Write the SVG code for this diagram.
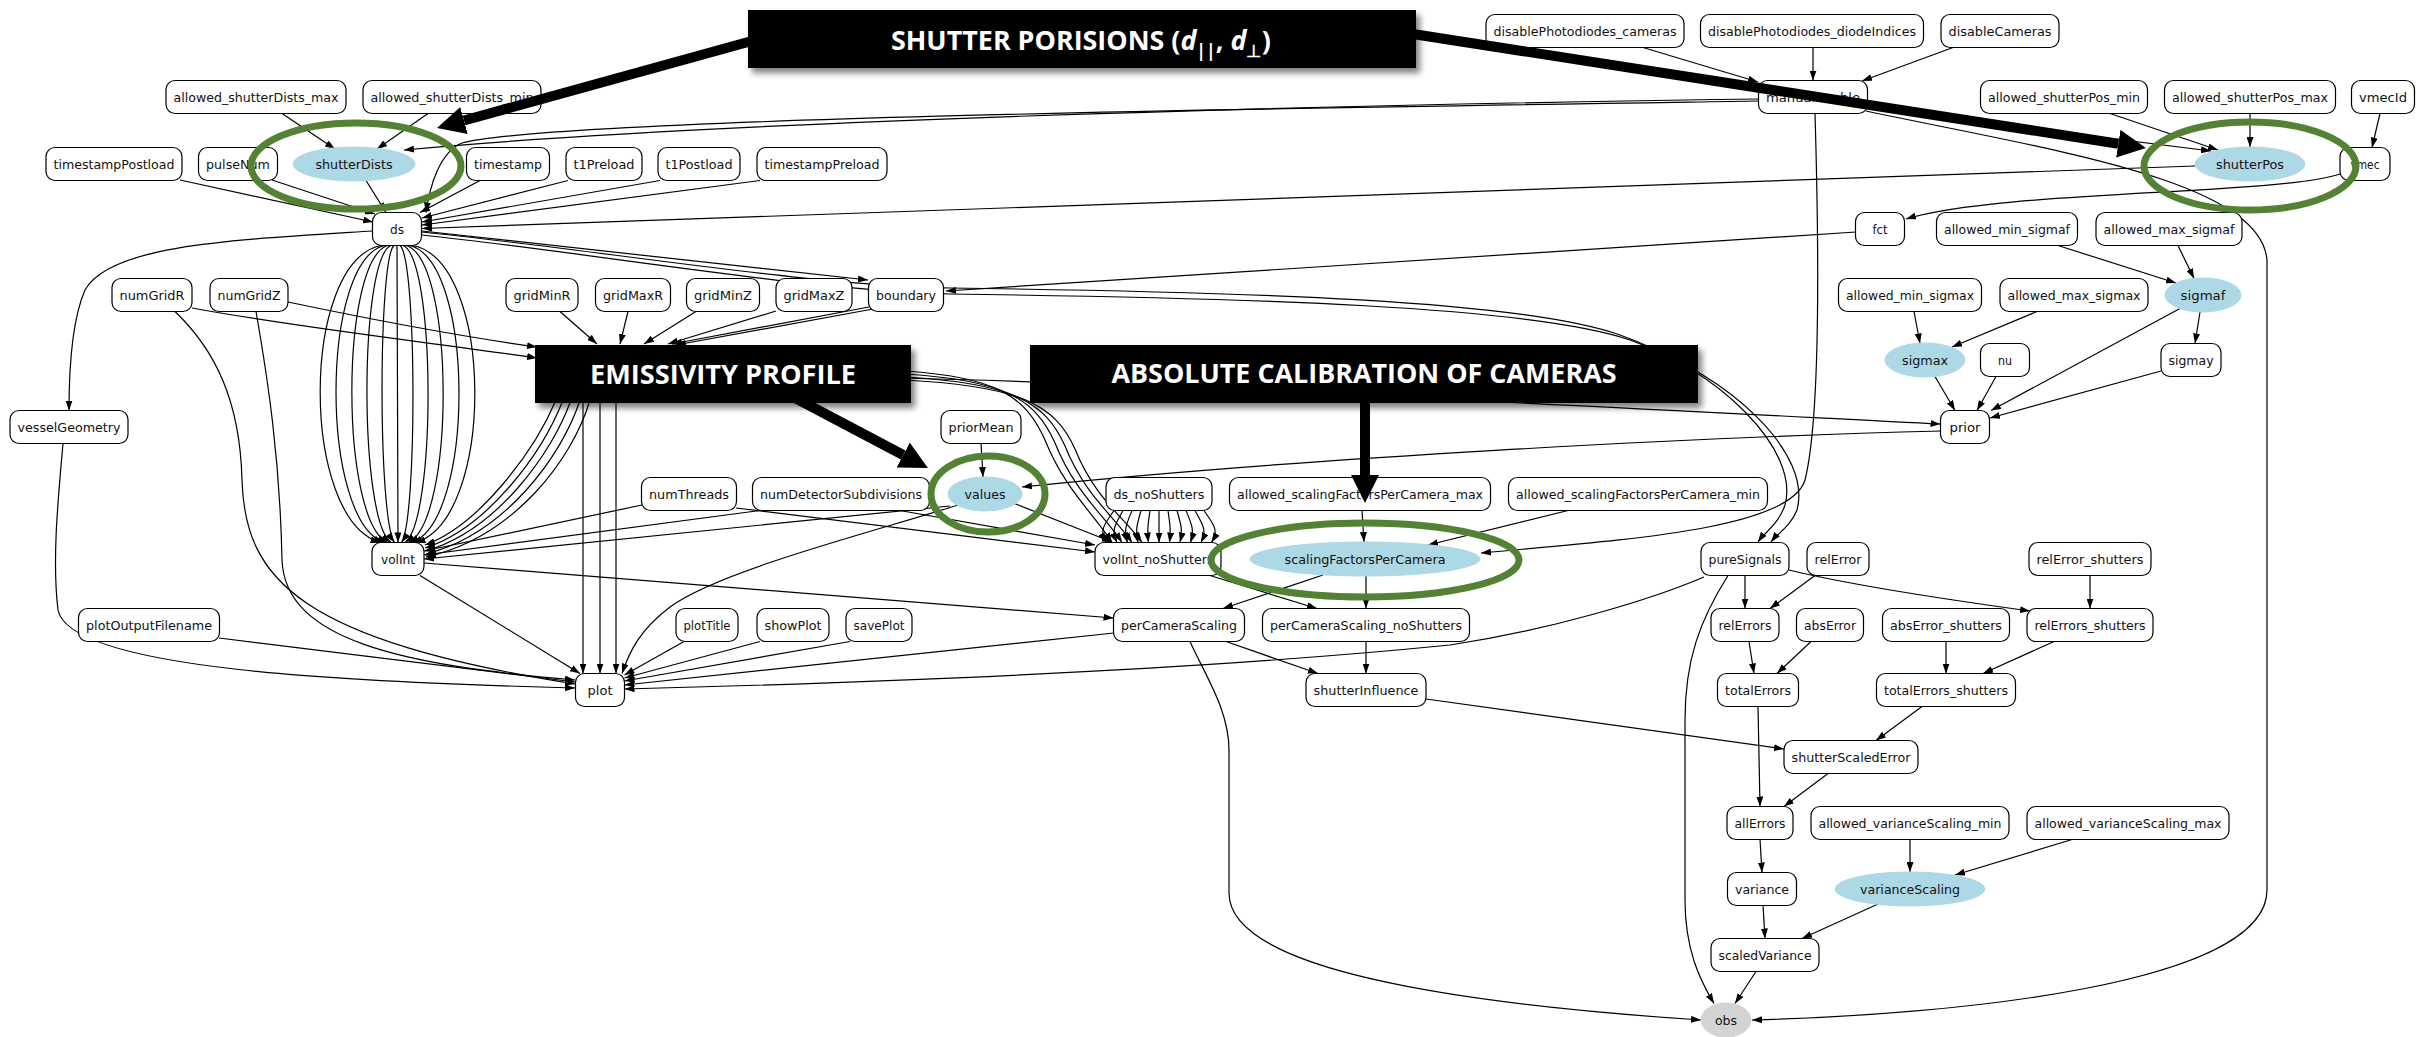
<svg xmlns="http://www.w3.org/2000/svg" width="2435" height="1037" viewBox="0 0 2435 1037">
<defs>
<style>
.n rect{fill:#fff;stroke:#000;stroke-width:1.2}
.v ellipse{fill:#add8e6;stroke:#add8e6}
.o ellipse{fill:#d3d3d3;stroke:#d3d3d3}
.n text,.v text,.o text{font-family:"DejaVu Sans Condensed","DejaVu Sans",sans-serif;font-size:13px;text-anchor:middle;fill:#111}
#edges path{fill:none;stroke:#000;stroke-width:1.2;marker-end:url(#ah)}
.ring{fill:none;stroke:#548235;stroke-width:7}
.big{fill:none;stroke:#000;stroke-width:10;marker-end:url(#bh)}
.cap rect{fill:#000;filter:url(#sh)}
.cap text{font-family:"Open Sans","Noto Sans",sans-serif;font-weight:700;font-size:26px;fill:#fff;text-anchor:middle}
</style>
<marker id="ah" viewBox="0 0 10 7" refX="10" refY="3.5" markerWidth="10" markerHeight="7" markerUnits="userSpaceOnUse" orient="auto"><path d="M0,0L10,3.5L0,7z" fill="#000"/></marker>
<marker id="bh" viewBox="0 0 28 28" refX="0" refY="14" markerWidth="28" markerHeight="28" markerUnits="userSpaceOnUse" orient="auto"><path d="M0,0L28,14L0,28z" fill="#000"/></marker>
<filter id="sh" x="-5%" y="-30%" width="112%" height="170%"><feGaussianBlur in="SourceAlpha" stdDeviation="3"/><feOffset dx="4" dy="5"/><feComponentTransfer><feFuncA type="linear" slope="0.5"/></feComponentTransfer><feMerge><feMergeNode/><feMergeNode in="SourceGraphic"/></feMerge></filter>
</defs>
<rect width="2435" height="1037" fill="#fff"/>

<g id="edges">
<path d="M282,113.5L335,149"/>
<path d="M428,113.5L377,149"/>
<path d="M1758,99C1300,105 700,122 404,150"/>
<path d="M1758,101C1300,108 560,118 462,143C440,152 430,185 426,212.5"/>
<path d="M366,180.5L386,212.5"/>
<path d="M180,180L373,222"/>
<path d="M272,180L375,214"/>
<path d="M480,180.5L420,212.5"/>
<path d="M568,180.5L422,218"/>
<path d="M660,180.5L422,222"/>
<path d="M760,180.5L422,225"/>
<path d="M2195,166L422,228.5"/>
<path d="M1643,47.5L1758,82"/>
<path d="M1813,47.5L1813,80.5"/>
<path d="M1953,47.5L1862,81"/>
<path d="M1866,108L2211,151"/>
<path d="M2110,113.5L2218,150"/>
<path d="M2250,113.5L2250,147"/>
<path d="M2380,113.5L2372,147.5"/>
<path d="M2340,174C2280,195 2000,190 1906,219"/>
<path d="M1856,232L946,291"/>
<path d="M1866,111C2050,150 2260,180 2267,260L2267,890C2267,985 1950,1015 1752,1020"/>
<path d="M1815,113.5C1819,250 1820,420 1805,480C1790,530 1620,540 1481,553"/>
<path d="M2058,245.5L2176,283"/>
<path d="M2178,245.5L2194,278.5"/>
<path d="M2200,312L2195,343.5"/>
<path d="M2180,308.5L1991,410.5"/>
<path d="M1914,311.5L1920,343.5"/>
<path d="M2037,311.5L1952,347"/>
<path d="M1935,376.5L1955,410.5"/>
<path d="M1996,376.5L1977,410.5"/>
<path d="M2161,371L1990,418"/>
<path d="M422,231L868,280"/>
<path d="M422,232C600,250 800,285 950,288C1250,292 1520,300 1620,335C1720,370 1800,450 1785,505C1778,525 1765,532 1758,542"/>
<path d="M422,235C600,254 800,290 950,294C1250,298 1530,306 1630,340C1735,378 1812,455 1797,510C1790,527 1778,533 1771,542"/>
<path d="M381,245.5C300,262 300,520 380.5,542.5"/>
<path d="M384.2,245.5C320,262 320,520 384,542.5"/>
<path d="M387.4,245.5C340,262 340,520 387.5,542.5"/>
<path d="M390.6,245.5C359,262 359,520 391,542.5"/>
<path d="M393.8,245.5C378,262 378,520 394.5,542.5"/>
<path d="M397,245.5L398,542.5"/>
<path d="M400.2,245.5C417,262 417,520 401.5,542.5"/>
<path d="M403.4,245.5C436,262 436,520 405,542.5"/>
<path d="M406.6,245.5C455,262 455,520 408.5,542.5"/>
<path d="M409.8,245.5C475,262 475,520 412,542.5"/>
<path d="M413,245.5C495,262 495,520 415.5,542.5"/>
<path d="M372.5,231C230,240 110,245 85,290C72,320 69,370 69,410.5"/>
<path d="M560,311.5L597,344"/>
<path d="M628,311.5L620,344"/>
<path d="M696,311.5L644,344"/>
<path d="M776,311L668,344"/>
<path d="M869,307L672,344"/>
<path d="M873,309L676,345"/>
<path d="M192,308C300,328 450,345 537,358"/>
<path d="M288,302C350,315 450,335 537,347"/>
<path d="M556,400C535,450 480,525 425,545"/>
<path d="M563,400C543,452 488,528 425,548"/>
<path d="M571,400C552,454 496,531 425.5,551"/>
<path d="M580,400C562,456 505,534 426,554"/>
<path d="M590,400C573,458 515,537 426,557"/>
<path d="M583,400L583,673.5"/>
<path d="M600,400L600,673.5"/>
<path d="M616,400L616,673.5"/>
<path d="M905,371C995,377 1025,395 1045,440C1065,490 1095,515 1112,542.5"/>
<path d="M905,374C1003,380 1035,398 1055,443C1075,493 1105,516 1122,542.5"/>
<path d="M905,377C1011,383 1045,401 1065,446C1085,496 1115,517 1132,542.5"/>
<path d="M905,380C1019,386 1055,404 1075,449C1095,499 1125,518 1142,542.5"/>
<path d="M900,378C1200,385 1700,412 1940.5,424"/>
<path d="M175,311.5C215,350 240,400 242,480C245,580 300,640 575,684"/>
<path d="M256,311.5C268,380 280,460 282,560C285,640 400,665 575,680"/>
<path d="M63,443.5C58,500 52,560 58,610C70,670 350,682 575,688"/>
<path d="M219,638L575,682"/>
<path d="M420,575.5L580,673.5"/>
<path d="M684,641.5L624.5,675"/>
<path d="M760,641.5L624.5,678"/>
<path d="M850,641.5L624.5,681"/>
<path d="M958,505C880,530 720,570 670,607C640,630 630,650 622,673.5"/>
<path d="M1114,633L624.5,685"/>
<path d="M1704,577C1650,600 1550,630 1450,645C1200,670 900,682 624.5,689"/>
<path d="M642,505L424,551"/>
<path d="M760,510.5L424,555"/>
<path d="M950,506L424,559"/>
<path d="M736,508L1095,552"/>
<path d="M900,510.5L1095,545"/>
<path d="M1013,503L1112,542"/>
<path d="M981,443.5L983,477"/>
<path d="M1941,431C1700,437 1300,458 1022,487"/>
<path d="M1114,510.5C1104,525 1099,530 1106.5,542.5"/>
<path d="M1123,510.5C1115,525 1111,530 1117,542.5"/>
<path d="M1132,510.5C1126,525 1123.5,530 1127.5,542.5"/>
<path d="M1141,510.5C1137,525 1135,530 1138,542.5"/>
<path d="M1150,510.5C1148,525 1147,530 1148.5,542.5"/>
<path d="M1159,510.5L1159,542.5"/>
<path d="M1168,510.5C1170,525 1171,530 1169.5,542.5"/>
<path d="M1177,510.5C1181,525 1183,530 1180,542.5"/>
<path d="M1186,510.5C1192,525 1194.5,530 1190.5,542.5"/>
<path d="M1195,510.5C1203,525 1207,530 1201,542.5"/>
<path d="M1204,510.5C1214,525 1219,530 1211.5,542.5"/>
<path d="M424,563L1113.5,618"/>
<path d="M1210,575.5L1317,608.5"/>
<path d="M1323,575L1223,608.5"/>
<path d="M1366,576L1366,608.5"/>
<path d="M1362,510.5L1364,542"/>
<path d="M1568,510.5L1428,545"/>
<path d="M1226,641.5L1318,673.5"/>
<path d="M1366,641.5L1366,673.5"/>
<path d="M1190,641.5C1205,675 1229,710 1229,750L1229,893C1229,960 1400,1000 1701,1020"/>
<path d="M1426,699L1784,749"/>
<path d="M1745,575.5L1745,608.5"/>
<path d="M1815,575.5L1770,608.5"/>
<path d="M1789,570C1850,585 1950,600 2030,611"/>
<path d="M2090,575.5L2090,608.5"/>
<path d="M1749,641.5L1754,673.5"/>
<path d="M1811,641.5L1777,673.5"/>
<path d="M1946,641.5L1946,673.5"/>
<path d="M2054,641.5L1983,673.5"/>
<path d="M1922,706.5L1876,740.5"/>
<path d="M1758,706.5L1760,806.5"/>
<path d="M1828,773.5L1784,806.5"/>
<path d="M1760,839.5L1762,872.5"/>
<path d="M1763,905.5L1765,938.5"/>
<path d="M1910,839.5L1910,872"/>
<path d="M2072,839.5L1955,875"/>
<path d="M1878,904L1802,938.5"/>
<path d="M1756,971.5L1735,1003.5"/>
<path d="M1728,575.5C1700,620 1685,660 1685,720L1685,900C1685,950 1700,980 1714,1003.5"/>
</g>

<g id="nodes">
<g id="n-disablePhotodiodes_cameras" class="n"><rect x="1486" y="14.5" width="198" height="33" rx="9"/><text x="1585" y="35.5" textLength="183" lengthAdjust="spacingAndGlyphs">disablePhotodiodes_cameras</text></g>
<g id="n-disablePhotodiodes_diodeIndices" class="n"><rect x="1700.5" y="14.5" width="223" height="33" rx="9"/><text x="1812" y="35.5" textLength="208" lengthAdjust="spacingAndGlyphs">disablePhotodiodes_diodeIndices</text></g>
<g id="n-disableCameras" class="n"><rect x="1941" y="14.5" width="118" height="33" rx="9"/><text x="2000" y="35.5" textLength="103" lengthAdjust="spacingAndGlyphs">disableCameras</text></g>
<g id="n-allowed_shutterDists_max" class="n"><rect x="166" y="80.5" width="180" height="33" rx="9"/><text x="256" y="101.5" textLength="165" lengthAdjust="spacingAndGlyphs">allowed_shutterDists_max</text></g>
<g id="n-allowed_shutterDists_min" class="n"><rect x="363" y="80.5" width="178" height="33" rx="9"/><text x="452" y="101.5" textLength="163" lengthAdjust="spacingAndGlyphs">allowed_shutterDists_min</text></g>
<g id="n-manualEnable" class="n"><rect x="1758.5" y="80.5" width="109" height="33" rx="9"/><text x="1813" y="101.5" textLength="94" lengthAdjust="spacingAndGlyphs">manualEnable</text></g>
<g id="n-allowed_shutterPos_min" class="n"><rect x="1980.5" y="80.5" width="167" height="33" rx="9"/><text x="2064" y="101.5" textLength="152" lengthAdjust="spacingAndGlyphs">allowed_shutterPos_min</text></g>
<g id="n-allowed_shutterPos_max" class="n"><rect x="2164.5" y="80.5" width="171" height="33" rx="9"/><text x="2250" y="101.5" textLength="156" lengthAdjust="spacingAndGlyphs">allowed_shutterPos_max</text></g>
<g id="n-vmecId" class="n"><rect x="2351.5" y="80.5" width="63" height="33" rx="9"/><text x="2383" y="101.5" textLength="48" lengthAdjust="spacingAndGlyphs">vmecId</text></g>
<g id="n-timestampPostload" class="n"><rect x="46" y="147.5" width="136" height="33" rx="9"/><text x="114" y="168.5" textLength="121" lengthAdjust="spacingAndGlyphs">timestampPostload</text></g>
<g id="n-pulseNum" class="n"><rect x="198.5" y="147.5" width="79" height="33" rx="9"/><text x="238" y="168.5" textLength="64" lengthAdjust="spacingAndGlyphs">pulseNum</text></g>
<g id="n-shutterDists" class="v"><ellipse cx="354" cy="164" rx="61" ry="17"/><text x="354" y="168.5" textLength="77" lengthAdjust="spacingAndGlyphs">shutterDists</text></g>
<g id="n-timestamp" class="n"><rect x="466.5" y="147.5" width="83" height="33" rx="9"/><text x="508" y="168.5" textLength="68" lengthAdjust="spacingAndGlyphs">timestamp</text></g>
<g id="n-t1Preload" class="n"><rect x="566" y="147.5" width="76" height="33" rx="9"/><text x="604" y="168.5" textLength="61" lengthAdjust="spacingAndGlyphs">t1Preload</text></g>
<g id="n-t1Postload" class="n"><rect x="658" y="147.5" width="82" height="33" rx="9"/><text x="699" y="168.5" textLength="67" lengthAdjust="spacingAndGlyphs">t1Postload</text></g>
<g id="n-timestampPreload" class="n"><rect x="757" y="147.5" width="130" height="33" rx="9"/><text x="822" y="168.5" textLength="115" lengthAdjust="spacingAndGlyphs">timestampPreload</text></g>
<g id="n-shutterPos" class="v"><ellipse cx="2250" cy="164" rx="55" ry="17"/><text x="2250" y="168.5" textLength="68" lengthAdjust="spacingAndGlyphs">shutterPos</text></g>
<g id="n-vmec" class="n"><rect x="2340" y="147.5" width="50" height="33" rx="9"/><text x="2365" y="168.5" textLength="29" lengthAdjust="spacingAndGlyphs">vmec</text></g>
<g id="n-ds" class="n"><rect x="372.5" y="212.5" width="49" height="33" rx="9"/><text x="397" y="233.5" textLength="14" lengthAdjust="spacingAndGlyphs">ds</text></g>
<g id="n-fct" class="n"><rect x="1855.5" y="212.5" width="49" height="33" rx="9"/><text x="1880" y="233.5" textLength="15" lengthAdjust="spacingAndGlyphs">fct</text></g>
<g id="n-allowed_min_sigmaf" class="n"><rect x="1936.5" y="212.5" width="141" height="33" rx="9"/><text x="2007" y="233.5" textLength="126" lengthAdjust="spacingAndGlyphs">allowed_min_sigmaf</text></g>
<g id="n-allowed_max_sigmaf" class="n"><rect x="2096" y="212.5" width="146" height="33" rx="9"/><text x="2169" y="233.5" textLength="131" lengthAdjust="spacingAndGlyphs">allowed_max_sigmaf</text></g>
<g id="n-numGridR" class="n"><rect x="112" y="278.5" width="80" height="33" rx="9"/><text x="152" y="299.5" textLength="65" lengthAdjust="spacingAndGlyphs">numGridR</text></g>
<g id="n-numGridZ" class="n"><rect x="210" y="278.5" width="78" height="33" rx="9"/><text x="249" y="299.5" textLength="63" lengthAdjust="spacingAndGlyphs">numGridZ</text></g>
<g id="n-gridMinR" class="n"><rect x="506" y="278.5" width="72" height="33" rx="9"/><text x="542" y="299.5" textLength="57" lengthAdjust="spacingAndGlyphs">gridMinR</text></g>
<g id="n-gridMaxR" class="n"><rect x="595.5" y="278.5" width="75" height="33" rx="9"/><text x="633" y="299.5" textLength="60" lengthAdjust="spacingAndGlyphs">gridMaxR</text></g>
<g id="n-gridMinZ" class="n"><rect x="686.5" y="278.5" width="73" height="33" rx="9"/><text x="723" y="299.5" textLength="58" lengthAdjust="spacingAndGlyphs">gridMinZ</text></g>
<g id="n-gridMaxZ" class="n"><rect x="776" y="278.5" width="76" height="33" rx="9"/><text x="814" y="299.5" textLength="61" lengthAdjust="spacingAndGlyphs">gridMaxZ</text></g>
<g id="n-boundary" class="n"><rect x="868.5" y="278.5" width="75" height="33" rx="9"/><text x="906" y="299.5" textLength="60" lengthAdjust="spacingAndGlyphs">boundary</text></g>
<g id="n-allowed_min_sigmax" class="n"><rect x="1838.5" y="278.5" width="143" height="33" rx="9"/><text x="1910" y="299.5" textLength="128" lengthAdjust="spacingAndGlyphs">allowed_min_sigmax</text></g>
<g id="n-allowed_max_sigmax" class="n"><rect x="2000" y="278.5" width="148" height="33" rx="9"/><text x="2074" y="299.5" textLength="133" lengthAdjust="spacingAndGlyphs">allowed_max_sigmax</text></g>
<g id="n-sigmaf" class="v"><ellipse cx="2203" cy="295" rx="38" ry="17"/><text x="2203" y="299.5" textLength="45" lengthAdjust="spacingAndGlyphs">sigmaf</text></g>
<g id="n-sigmax" class="v"><ellipse cx="1925" cy="360" rx="40" ry="17"/><text x="1925" y="364.5" textLength="46" lengthAdjust="spacingAndGlyphs">sigmax</text></g>
<g id="n-nu" class="n"><rect x="1980.5" y="343.5" width="49" height="33" rx="9"/><text x="2005" y="364.5" textLength="14" lengthAdjust="spacingAndGlyphs">nu</text></g>
<g id="n-sigmay" class="n"><rect x="2161" y="343.5" width="60" height="33" rx="9"/><text x="2191" y="364.5" textLength="45" lengthAdjust="spacingAndGlyphs">sigmay</text></g>
<g id="n-vesselGeometry" class="n"><rect x="10" y="410.5" width="118" height="33" rx="9"/><text x="69" y="431.5" textLength="103" lengthAdjust="spacingAndGlyphs">vesselGeometry</text></g>
<g id="n-priorMean" class="n"><rect x="941" y="410.5" width="80" height="33" rx="9"/><text x="981" y="431.5" textLength="65" lengthAdjust="spacingAndGlyphs">priorMean</text></g>
<g id="n-prior" class="n"><rect x="1940.5" y="410.5" width="49" height="33" rx="9"/><text x="1965" y="431.5" textLength="31" lengthAdjust="spacingAndGlyphs">prior</text></g>
<g id="n-numThreads" class="n"><rect x="641.5" y="477.5" width="95" height="33" rx="9"/><text x="689" y="498.5" textLength="80" lengthAdjust="spacingAndGlyphs">numThreads</text></g>
<g id="n-numDetectorSubdivisions" class="n"><rect x="752.5" y="477.5" width="177" height="33" rx="9"/><text x="841" y="498.5" textLength="162" lengthAdjust="spacingAndGlyphs">numDetectorSubdivisions</text></g>
<g id="n-values" class="v"><ellipse cx="985" cy="494" rx="37" ry="17"/><text x="985" y="498.5" textLength="41" lengthAdjust="spacingAndGlyphs">values</text></g>
<g id="n-ds_noShutters" class="n"><rect x="1106" y="477.5" width="106" height="33" rx="9"/><text x="1159" y="498.5" textLength="91" lengthAdjust="spacingAndGlyphs">ds_noShutters</text></g>
<g id="n-allowed_scalingFactorsPerCamera_max" class="n"><rect x="1229.5" y="477.5" width="261" height="33" rx="9"/><text x="1360" y="498.5" textLength="246" lengthAdjust="spacingAndGlyphs">allowed_scalingFactorsPerCamera_max</text></g>
<g id="n-allowed_scalingFactorsPerCamera_min" class="n"><rect x="1508.5" y="477.5" width="259" height="33" rx="9"/><text x="1638" y="498.5" textLength="244" lengthAdjust="spacingAndGlyphs">allowed_scalingFactorsPerCamera_min</text></g>
<g id="n-volInt" class="n"><rect x="372" y="542.5" width="52" height="33" rx="9"/><text x="398" y="563.5" textLength="34" lengthAdjust="spacingAndGlyphs">volInt</text></g>
<g id="n-volInt_noShutters" class="n"><rect x="1095" y="542.5" width="126" height="33" rx="9"/><text x="1158" y="563.5" textLength="111" lengthAdjust="spacingAndGlyphs">volInt_noShutters</text></g>
<g id="n-scalingFactorsPerCamera" class="v"><ellipse cx="1365" cy="559" rx="115" ry="17"/><text x="1365" y="563.5" textLength="161" lengthAdjust="spacingAndGlyphs">scalingFactorsPerCamera</text></g>
<g id="n-pureSignals" class="n"><rect x="1701" y="542.5" width="88" height="33" rx="9"/><text x="1745" y="563.5" textLength="73" lengthAdjust="spacingAndGlyphs">pureSignals</text></g>
<g id="n-relError" class="n"><rect x="1807" y="542.5" width="62" height="33" rx="9"/><text x="1838" y="563.5" textLength="47" lengthAdjust="spacingAndGlyphs">relError</text></g>
<g id="n-relError_shutters" class="n"><rect x="2029" y="542.5" width="122" height="33" rx="9"/><text x="2090" y="563.5" textLength="107" lengthAdjust="spacingAndGlyphs">relError_shutters</text></g>
<g id="n-plotOutputFilename" class="n"><rect x="78.5" y="608.5" width="141" height="33" rx="9"/><text x="149" y="629.5" textLength="126" lengthAdjust="spacingAndGlyphs">plotOutputFilename</text></g>
<g id="n-plotTitle" class="n"><rect x="676" y="608.5" width="62" height="33" rx="9"/><text x="707" y="629.5" textLength="47" lengthAdjust="spacingAndGlyphs">plotTitle</text></g>
<g id="n-showPlot" class="n"><rect x="757" y="608.5" width="72" height="33" rx="9"/><text x="793" y="629.5" textLength="57" lengthAdjust="spacingAndGlyphs">showPlot</text></g>
<g id="n-savePlot" class="n"><rect x="846" y="608.5" width="66" height="33" rx="9"/><text x="879" y="629.5" textLength="51" lengthAdjust="spacingAndGlyphs">savePlot</text></g>
<g id="n-perCameraScaling" class="n"><rect x="1113.5" y="608.5" width="131" height="33" rx="9"/><text x="1179" y="629.5" textLength="116" lengthAdjust="spacingAndGlyphs">perCameraScaling</text></g>
<g id="n-perCameraScaling_noShutters" class="n"><rect x="1262.5" y="608.5" width="207" height="33" rx="9"/><text x="1366" y="629.5" textLength="192" lengthAdjust="spacingAndGlyphs">perCameraScaling_noShutters</text></g>
<g id="n-relErrors" class="n"><rect x="1711" y="608.5" width="68" height="33" rx="9"/><text x="1745" y="629.5" textLength="53" lengthAdjust="spacingAndGlyphs">relErrors</text></g>
<g id="n-absError" class="n"><rect x="1796.5" y="608.5" width="67" height="33" rx="9"/><text x="1830" y="629.5" textLength="52" lengthAdjust="spacingAndGlyphs">absError</text></g>
<g id="n-absError_shutters" class="n"><rect x="1882.5" y="608.5" width="127" height="33" rx="9"/><text x="1946" y="629.5" textLength="112" lengthAdjust="spacingAndGlyphs">absError_shutters</text></g>
<g id="n-relErrors_shutters" class="n"><rect x="2027" y="608.5" width="126" height="33" rx="9"/><text x="2090" y="629.5" textLength="111" lengthAdjust="spacingAndGlyphs">relErrors_shutters</text></g>
<g id="n-plot" class="n"><rect x="575.5" y="673.5" width="49" height="33" rx="9"/><text x="600" y="694.5" textLength="25" lengthAdjust="spacingAndGlyphs">plot</text></g>
<g id="n-shutterInfluence" class="n"><rect x="1306" y="673.5" width="120" height="33" rx="9"/><text x="1366" y="694.5" textLength="105" lengthAdjust="spacingAndGlyphs">shutterInfluence</text></g>
<g id="n-totalErrors" class="n"><rect x="1717.5" y="673.5" width="81" height="33" rx="9"/><text x="1758" y="694.5" textLength="66" lengthAdjust="spacingAndGlyphs">totalErrors</text></g>
<g id="n-totalErrors_shutters" class="n"><rect x="1876.5" y="673.5" width="139" height="33" rx="9"/><text x="1946" y="694.5" textLength="124" lengthAdjust="spacingAndGlyphs">totalErrors_shutters</text></g>
<g id="n-shutterScaledError" class="n"><rect x="1784" y="740.5" width="134" height="33" rx="9"/><text x="1851" y="761.5" textLength="119" lengthAdjust="spacingAndGlyphs">shutterScaledError</text></g>
<g id="n-allErrors" class="n"><rect x="1727" y="806.5" width="66" height="33" rx="9"/><text x="1760" y="827.5" textLength="51" lengthAdjust="spacingAndGlyphs">allErrors</text></g>
<g id="n-allowed_varianceScaling_min" class="n"><rect x="1811" y="806.5" width="198" height="33" rx="9"/><text x="1910" y="827.5" textLength="183" lengthAdjust="spacingAndGlyphs">allowed_varianceScaling_min</text></g>
<g id="n-allowed_varianceScaling_max" class="n"><rect x="2027" y="806.5" width="202" height="33" rx="9"/><text x="2128" y="827.5" textLength="187" lengthAdjust="spacingAndGlyphs">allowed_varianceScaling_max</text></g>
<g id="n-variance" class="n"><rect x="1727.5" y="872.5" width="69" height="33" rx="9"/><text x="1762" y="893.5" textLength="54" lengthAdjust="spacingAndGlyphs">variance</text></g>
<g id="n-varianceScaling" class="v"><ellipse cx="1910" cy="889" rx="75" ry="17"/><text x="1910" y="893.5" textLength="100" lengthAdjust="spacingAndGlyphs">varianceScaling</text></g>
<g id="n-scaledVariance" class="n"><rect x="1711" y="938.5" width="108" height="33" rx="9"/><text x="1765" y="959.5" textLength="93" lengthAdjust="spacingAndGlyphs">scaledVariance</text></g>
<g id="n-obs" class="o"><ellipse cx="1726" cy="1020" rx="25" ry="17"/><text x="1726" y="1024.5" textLength="22" lengthAdjust="spacingAndGlyphs">obs</text></g>
</g>

<!-- highlight rings -->
<g id="rings">
<ellipse class="ring" cx="356" cy="166" rx="105" ry="43"/>
<ellipse class="ring" cx="2250" cy="166" rx="106" ry="44"/>
<ellipse class="ring" cx="988" cy="494" rx="57" ry="38"/>
<ellipse class="ring" cx="1365" cy="560" rx="154" ry="37"/>
</g>

<!-- callout arrows -->
<g id="callout-arrows">
<path class="big" d="M770,36L464,120.5"/>
<path class="big" d="M1400,32L2118.3,143.7"/>
<path class="big" d="M780,390L903.2,455"/>
<path class="big" d="M1365,395L1365,475"/>
</g>

<!-- callout labels -->
<g id="callout-shutter" class="cap"><rect x="748" y="10" width="668" height="58"/><text x="1081" y="50" textLength="380" lengthAdjust="spacingAndGlyphs">SHUTTER PORISIONS (<tspan font-style="italic">d</tspan><tspan font-size="17" baseline-shift="-7">||</tspan>, <tspan font-style="italic">d</tspan><tspan font-size="17" baseline-shift="-7">⊥</tspan>)</text></g>
<g id="callout-emissivity" class="cap"><rect x="535" y="345" width="376" height="58"/><text x="723" y="384" textLength="266" lengthAdjust="spacingAndGlyphs">EMISSIVITY PROFILE</text></g>
<g id="callout-calibration" class="cap"><rect x="1030" y="345" width="668" height="58"/><text x="1364" y="383" textLength="505" lengthAdjust="spacingAndGlyphs">ABSOLUTE CALIBRATION OF CAMERAS</text></g>
</svg>
